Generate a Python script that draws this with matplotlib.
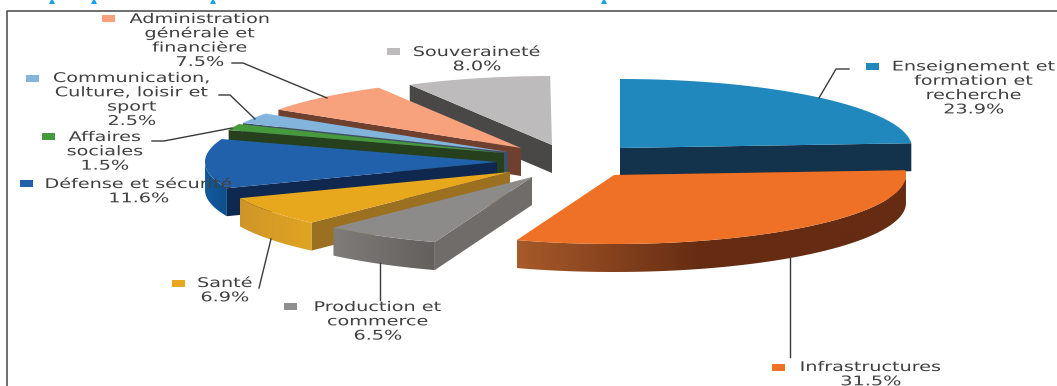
import numpy as np
import matplotlib
matplotlib.use('Agg')
import matplotlib.pyplot as plt
from matplotlib.colors import to_rgb
from matplotlib.patches import Polygon, Rectangle
from matplotlib.patheffects import AbstractPathEffect
from matplotlib.transforms import Affine2D

names = ['Enseignement et\nformation et\nrecherche', 'Infrastructures',
         'Production et\ncommerce', 'Santé', 'Défense et sécurité',
         'Affaires\nsociales', 'Communication,\nCulture, loisir et\nsport',
         'Administration\ngénérale et\nfinancière', 'Souveraineté']
values = [23.9, 31.5, 6.5, 6.9, 11.6, 1.5, 2.5, 7.5, 8.0]

top_colors = ['#2088bd', '#ee7126', '#8c8b8a', '#e8a81e', '#2160aa',
              '#479a3c', '#82b4dc', '#f7a27d', '#bdbbbb']
face_colors = ['#13324b', '#652c12', '#6f6c6a', '#9b7020', '#0f2850',
               '#26401d', '#3c5068', '#70402f', '#4a4846']
rim_left = ['#13324b', '#a85a2a', '#7f7c7a', '#cf9628', '#125a9c',
            '#26401d', '#3c5068', '#70402f', '#4a4846']
rim_right = ['#13324b', '#652c12', '#625f5d', '#e0a522', '#0f4f8c',
             '#26401d', '#3c5068', '#70402f', '#4a4846']
rim_ramp = [1, 0.47, 1, 1, 1, 1, 1, 1, 1]
marker_colors = ['#2088bd', '#ee7126', '#8f8f8f', '#e8a81e', '#2160aa',
                 '#479a3c', '#82b4dc', '#f7a27d', '#bdbbbb']

# apex of each exploded slice, in pixels
apex_x = [620, 614, 532, 510, 497, 504, 508, 521, 552]
apex_y = [148, 175, 177, 172, 162, 153, 152, 148, 145]
# label centre / top, marker left / middle
label_x = [974, 871, 378, 225, 139, 105, 132, 200, 477]
label_y = [60.5, 361, 301, 277, 178, 131, 72, 13, 46]
marker_x = [866, 772, 284, 172, 20, 42, 26, 102, 387]
marker_y = [66, 367, 306, 283, 183, 136, 78, 18, 51]

rx, ry, depth = 292, 69, 28
draw_order = [8, 7, 6, 5, 4, 3, 2, 0, 1]


class Stretch(AbstractPathEffect):
    # the reference text is stretched sideways, each line about its own middle
    def __init__(self, sx):
        super().__init__()
        self.sx = sx

    def draw_path(self, renderer, gc, tpath, affine, rgbFace=None):
        ext = tpath.get_extents()
        mid = (ext.x0 + ext.x1) / 2
        a = Affine2D().translate(-mid, 0).scale(self.sx, 1).translate(mid, 0) + affine
        renderer.draw_path(gc, tpath, a, rgbFace)


fig = plt.figure(figsize=(10.57, 3.86), dpi=100)
ax = fig.add_axes([0, 0, 1, 1])
ax.set_xlim(0, 1057)
ax.set_ylim(386, 0)
ax.axis('off')

# chart frame
ax.plot([6.5, 6.5, 1057], [386, 10.7, 10.7], color='#555555', lw=1.2, zorder=1)

# descenders of the title cut off by the crop
ax.plot([52, 94, 213, 604], [0.5, 0.5, 0.5, 0.5], ls='none', marker='^', ms=4.5,
        color='#14a4ec', mew=0, zorder=1)

ends = 90 - np.cumsum(values) * 3.6
starts = np.concatenate([[90], ends[:-1]])

z = 2
for i in draw_order:
    cx, cy = apex_x[i], apex_y[i]
    t = np.radians(np.linspace(starts[i], ends[i], 120))
    xs = cx + rx * np.cos(t)
    ys = cy - ry * np.sin(t)

    # cut face, on the lower edge of the slice
    k = -1 if i == 0 else 0
    ax.add_patch(Polygon([(cx, cy), (xs[k], ys[k]), (xs[k], ys[k] + depth), (cx, cy + depth)],
                         facecolor=face_colors[i], edgecolor='none', zorder=z))
    z += 1

    # outer rim with its shading
    front = np.sin(t) < 0.02
    if front.sum() > 1:
        fx, fy = xs[front], ys[front]
        rim = Polygon(np.column_stack([np.r_[fx, fx[::-1]], np.r_[fy, fy[::-1] + depth]]),
                      facecolor='none', edgecolor='none', zorder=z)
        ax.add_patch(rim)
        x0, x1 = fx.min(), fx.max()
        ramp = np.clip(np.linspace(0, 1, 256) / rim_ramp[i], 0, 1)[:, None]
        grad = np.array(to_rgb(rim_left[i])) * (1 - ramp) + np.array(to_rgb(rim_right[i])) * ramp
        im = ax.imshow(grad[None, :, :], extent=(x0, x1, fy.max() + depth, fy.min()),
                       aspect='auto', zorder=z, interpolation='bilinear')
        im.set_clip_path(rim)
        z += 1

    # top surface
    ax.add_patch(Polygon(np.column_stack([np.r_[cx, xs], np.r_[cy, ys]]),
                         facecolor=top_colors[i], edgecolor='none', zorder=z))
    z += 1

ax.set_xlim(0, 1057)
ax.set_ylim(386, 0)

# leader lines
line_color = '#3a3a3a'
leaders = [([819, 836, 849], [98, 69, 69]),
           ([789.5, 789.5], [258, 357]),
           ([380, 380], [263, 300]),
           ([271, 259], [239, 288]),
           ([152, 164, 232], [141, 141, 128]),
           ([219, 230, 255], [95, 95, 119]),
           ([232, 243, 327], [63, 63, 98])]
for lx, ly in leaders:
    ax.plot(lx, ly, color=line_color, lw=1, zorder=z)

for i in range(len(names)):
    pct = '%.1f%%' % values[i]
    ax.text(label_x[i], label_y[i], names[i] + '\n' + pct, ha='center', va='top',
            fontsize=9.6, color='#404040', family='DejaVu Sans', linespacing=1.13,
            zorder=z + 1, path_effects=[Stretch(1.44)])
    ax.add_patch(Rectangle((marker_x[i], marker_y[i] - 3.5), 13, 7,
                           facecolor=marker_colors[i], edgecolor='none', zorder=z + 1))

fig.savefig('out.png', dpi=100)
